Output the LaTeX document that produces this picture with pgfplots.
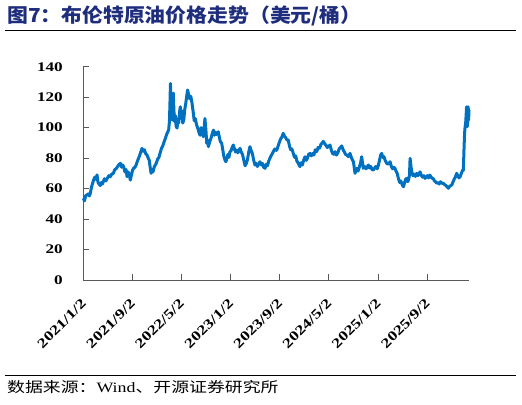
\documentclass[border=0pt]{standalone}
\usepackage{pgfplots}
\pgfplotsset{compat=1.18}
\usepackage{fontspec}
\setmainfont{Liberation Serif}
\newfontfamily\cjk{Noto Sans CJK SC}[FakeStretch=1.08]
\newfontfamily\srccjk{Noto Sans CJK SC}[FakeStretch=1.25]
\newfontfamily\srclat{Liberation Serif}[FakeStretch=1.25]
\newfontfamily\tickfont{Liberation Serif}[FakeStretch=1.3]
\definecolor{titleblue}{RGB}{31,45,125}
\definecolor{lineblue}{RGB}{0,112,192}
\definecolor{axisgray}{RGB}{89,89,89}

% Brent daily close, x = days since 2021/1/2
\pgfplotstableread{
day price
0 53.6
6 52.0
12 55.5
18 55.8
24 56.5
30 55.2
35 57.0
40 60.5
45 63.0
51 65.6
57 67.5
63 66.0
68 69.0
73 64.0
78 63.0
84 62.0
90 64.0
95 63.0
99 64.5
105 66.5
112 65.0
120 67.0
127 68.5
134 67.8
141 69.5
149 70.0
156 72.5
163 73.0
170 74.5
177 75.8
184 76.6
190 74.0
195 75.5
200 74.4
206 71.0
212 72.5
217 67.8
222 71.0
227 69.5
233 65.6
238 68.5
244 72.0
250 73.5
256 74.0
262 75.5
268 78.0
274 79.9
280 82.0
285 84.0
291 86.4
297 84.5
303 85.5
309 83.0
316 82.0
322 80.0
327 78.5
332 73.5
336 70.0
341 72.5
346 71.0
351 74.0
357 75.5
363 77.0
369 79.5
375 80.5
382 84.0
388 86.5
394 88.0
400 90.5
407 93.0
413 95.5
418 97.0
423 98.4
427 104.0
430 118.0
432 129.0
434 117.0
437 110.0
440 105.0
443 115.0
446 122.7
449 112.0
452 104.0
456 108.0
460 101.0
465 99.7
469 106.0
473 103.0
477 110.0
481 113.7
485 106.0
489 111.0
493 103.0
498 105.0
503 112.0
508 116.0
512 120.0
517 124.7
522 122.0
527 119.0
533 120.5
539 116.0
545 110.0
550 104.5
555 106.0
562 101.7
569 99.0
574 96.5
579 95.0
584 100.0
590 97.0
595 94.0
603 106.0
608 98.0
612 89.7
616 92.0
620 87.5
626 90.5
633 93.0
639 96.0
645 98.4
650 95.0
655 97.0
660 95.5
669 97.3
674 94.0
679 91.0
686 89.7
692 85.0
697 81.0
703 78.5
707 77.6
712 80.0
717 82.5
722 80.5
727 84.2
733 85.0
738 87.0
744 88.6
749 86.0
755 84.0
760 85.3
766 83.5
771 85.0
777 86.4
783 84.0
789 82.5
795 79.0
802 75.0
808 76.5
814 79.0
820 84.0
826 87.5
832 85.0
838 83.0
844 79.0
851 75.5
857 76.5
863 74.5
869 76.0
876 77.6
882 75.5
888 76.5
894 74.0
901 73.3
907 76.0
913 75.0
919 78.0
925 79.9
931 81.5
937 83.0
943 84.5
949 86.0
954 85.0
959 85.3
966 88.0
972 90.5
978 92.5
985 94.0
991 96.3
997 94.5
1003 93.5
1009 92.0
1016 91.9
1022 88.0
1028 85.5
1034 86.0
1041 83.1
1047 80.5
1053 81.5
1059 78.0
1066 76.5
1074 74.4
1080 77.0
1086 75.5
1092 78.5
1099 80.9
1105 78.5
1111 80.0
1117 82.5
1124 83.1
1130 81.5
1137 83.0
1143 82.0
1150 85.5
1157 84.2
1164 87.0
1171 86.5
1178 89.0
1184 90.0
1190 91.0
1196 89.5
1203 88.5
1209 87.0
1215 87.5
1223 88.6
1230 85.0
1236 83.0
1242 82.5
1248 84.2
1255 82.0
1262 83.5
1268 86.0
1275 87.0
1281 88.0
1288 85.5
1294 84.0
1300 82.5
1306 82.0
1314 81.0
1322 83.1
1330 80.0
1339 77.6
1343 74.0
1347 70.0
1352 72.0
1356 73.3
1362 71.5
1368 74.0
1374 76.5
1380 80.9
1384 77.0
1388 73.3
1395 74.5
1402 73.0
1408 74.0
1413 75.5
1419 73.5
1425 74.5
1431 72.5
1438 72.2
1444 73.5
1450 74.5
1457 73.0
1463 75.5
1469 79.0
1474 82.0
1479 83.1
1485 80.5
1490 81.0
1496 78.7
1502 77.0
1508 76.0
1514 76.5
1521 77.6
1527 74.5
1533 73.0
1539 74.0
1545 73.3
1550 71.5
1556 70.0
1562 66.7
1568 64.0
1574 65.0
1581 62.5
1587 61.2
1592 63.5
1597 66.0
1603 66.7
1608 64.5
1613 66.0
1617 69.0
1620 79.9
1624 75.0
1628 71.0
1634 68.5
1640 69.5
1646 68.0
1653 70.0
1659 68.5
1664 69.5
1669 71.0
1675 69.0
1681 67.5
1688 68.5
1694 66.7
1700 67.5
1706 68.5
1712 67.0
1718 68.9
1724 67.5
1730 66.7
1735 66.5
1741 65.0
1746 64.5
1752 63.5
1758 64.0
1764 63.0
1771 64.5
1778 63.5
1785 63.5
1792 62.5
1798 62.0
1804 61.0
1810 60.2
1816 61.5
1822 62.0
1827 62.4
1833 64.5
1838 66.0
1844 67.5
1851 70.0
1856 68.5
1862 67.0
1868 67.8
1874 70.0
1881 72.2
1884 72.0
1887 85.0
1890 96.0
1892 99.6
1896 104.0
1900 113.7
1903 100.6
1906 104.0
1908 113.7
1910 105.0
1912 111.5
}\brent

\begin{document}
\begin{tikzpicture}
\path[use as bounding box] (0bp,0bp) rectangle (522bp,405bp);
\draw[line width=1bp] (5bp,374bp) -- (516bp,374bp);
\draw[line width=1bp] (5bp,29.3bp) -- (516bp,29.3bp);
\node[anchor=base west, inner sep=0pt, text=titleblue,
      font=\cjk\bfseries\fontsize{19.3bp}{19.3bp}\selectfont]
  at (7bp,382bp) {图7：布伦特原油价格走势（美元/桶）};
\node[anchor=base west, inner sep=0pt, font=\fontsize{14.3bp}{14.3bp}\selectfont]
  at (7bp,13bp) {{\srccjk 数据来源：}{\srclat Wind}{\srccjk 、开源证券研究所}};
\begin{axis}[
    at={(83.3bp,125bp)}, anchor=south west,
    scale only axis, width=385.7bp, height=213.3bp,
    xmin=0, xmax=1912, ymin=0, ymax=140,
    axis x line=bottom, axis y line=left,
    axis line style={axisgray, line width=0.8bp, -},
    xtick={0,243,485,730,973,1216,1461,1704},
    xticklabels={2021/1/2,2021/9/2,2022/5/2,2023/1/2,2023/9/2,2024/5/2,2025/1/2,2025/9/2},
    ytick={0,20,...,140},
    tick align=inside, major tick length=6bp,
    tick style={axisgray, line width=0.8bp},
    /pgf/number format/assume math mode=true,
    tick label style={font=\tickfont\bfseries\fontsize{13.2bp}{13.2bp}\selectfont},
    xticklabel style={font=\tickfont\bfseries\fontsize{13.6bp}{13.6bp}\selectfont,
                      xshift=3bp, yshift=-19bp, rotate=45, anchor=east},
    yticklabel style={xshift=-17bp},
    clip=false,
]
\addplot[lineblue, line width=3bp, line join=round] table[x=day, y=price] {\brent};
\end{axis}
\end{tikzpicture}
\end{document}
